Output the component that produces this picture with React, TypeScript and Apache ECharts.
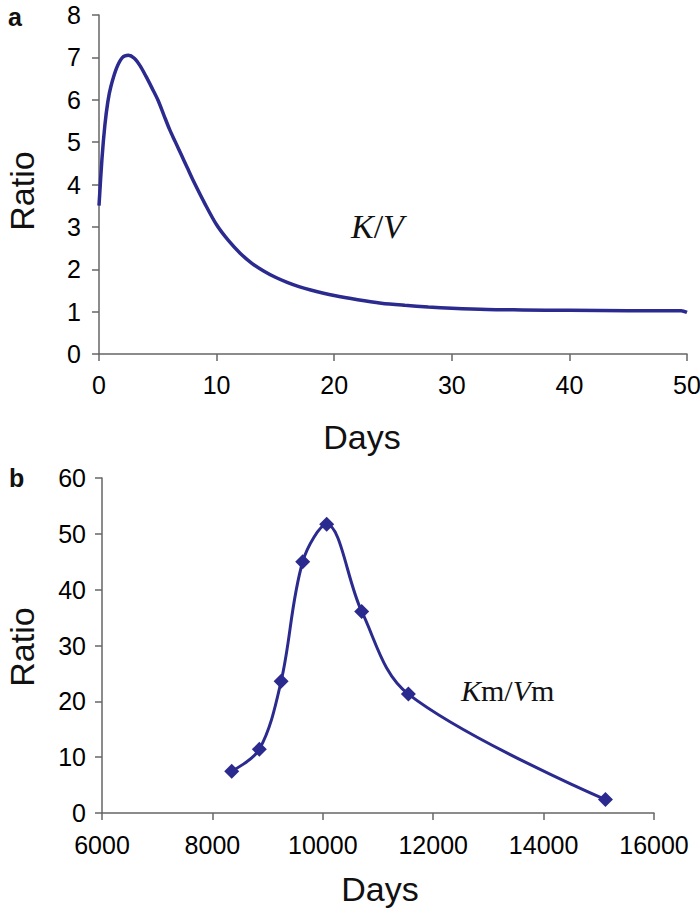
import React, { useEffect, useRef } from "react";
import * as echarts from "echarts";

// Panel a: K/V ratio over the first 50 days
const kvDays = [0, 0.25, 0.5, 0.75, 1, 1.5, 2, 2.5, 3, 3.5, 4, 4.5, 5, 5.5, 6, 6.5, 7, 7.5, 8, 9, 10, 11, 12, 13, 14, 15, 16, 17, 18, 20, 22, 24, 26, 28, 30, 33, 36, 40, 45, 49.5, 50];
const kvRatio = [3.5, 4.6, 5.4, 5.95, 6.3, 6.75, 7.0, 7.05, 6.98, 6.8, 6.55, 6.28, 6.0, 5.65, 5.3, 5.0, 4.7, 4.4, 4.1, 3.55, 3.05, 2.68, 2.38, 2.14, 1.96, 1.81, 1.69, 1.59, 1.51, 1.38, 1.28, 1.2, 1.15, 1.11, 1.08, 1.05, 1.04, 1.03, 1.02, 1.02, 0.98];

// Panel b: Km/Vm ratio at measured days
const kmDays = [8350, 8850, 9245, 9636, 10070, 10705, 11550, 15120];
const kmRatio = [7.5, 11.4, 23.6, 45.0, 51.7, 36.1, 21.3, 2.4];

const LINE = "#2b2a8e";
const AXIS = "#666666";
const SANS = "Liberation Sans, Arial, sans-serif";
const SERIF = "Liberation Serif, Times New Roman, serif";
const TICK_FONT = 25;
const TITLE_FONT = 34;

const plain = (v: number) => String(v);

function axisLabel(margin: number) {
  return { show: true, color: "#000", fontSize: TICK_FONT, fontFamily: SANS, margin, formatter: plain };
}

const axisLine = { show: true, onZero: false, lineStyle: { color: AXIS, width: 1.5 } };
const axisTick = { show: true, inside: false, length: 7, lineStyle: { color: AXIS, width: 1.5 } };

export default function App() {
  const ref = useRef<HTMLDivElement>(null);

  useEffect(() => {
    if (!ref.current) return;
    const chart = echarts.init(ref.current, null, { renderer: "svg" });
    chart.setOption({
      animation: false,
      backgroundColor: "#ffffff",
      grid: [
        { left: 99, top: 15, width: 588, height: 339, containLabel: false, outerBoundsMode: "none" },
        { left: 102, top: 478, width: 552, height: 335, containLabel: false, outerBoundsMode: "none" },
      ],
      xAxis: [
        { type: "value", gridIndex: 0, min: 0, max: 50, interval: 10, axisLine, axisTick, splitLine: { show: false }, axisLabel: axisLabel(18) },
        { type: "value", gridIndex: 1, min: 6000, max: 16000, interval: 2000, axisLine, axisTick, splitLine: { show: false }, axisLabel: axisLabel(19) },
      ],
      yAxis: [
        { type: "value", gridIndex: 0, min: 0, max: 8, interval: 1, axisLine, axisTick, splitLine: { show: false }, axisLabel: axisLabel(18) },
        { type: "value", gridIndex: 1, min: 0, max: 60, interval: 10, axisLine, axisTick, splitLine: { show: false }, axisLabel: axisLabel(16) },
      ],
      series: [
        {
          type: "line",
          xAxisIndex: 0,
          yAxisIndex: 0,
          data: kvDays.map((d, i) => [d, kvRatio[i]]),
          smooth: 0.3,
          showSymbol: false,
          lineStyle: { color: LINE, width: 3.5 },
        },
        {
          type: "line",
          xAxisIndex: 1,
          yAxisIndex: 1,
          data: kmDays.map((d, i) => [d, kmRatio[i]]),
          smooth: 0.35,
          symbol: "diamond",
          symbolSize: 15,
          itemStyle: { color: LINE },
          lineStyle: { color: LINE, width: 3 },
        },
      ],
      graphic: [
        { type: "text", left: 8, top: 4, style: { text: "a", font: `bold 25px ${SANS}`, fill: "#111" } },
        { type: "text", left: 9, top: 465, style: { text: "b", font: `bold 25px ${SANS}`, fill: "#111" } },
        { type: "text", x: 362, y: 437, style: { text: "Days", font: `${TITLE_FONT}px ${SANS}`, fill: "#111", align: "center", verticalAlign: "middle" } },
        { type: "text", x: 380, y: 889, style: { text: "Days", font: `${TITLE_FONT}px ${SANS}`, fill: "#111", align: "center", verticalAlign: "middle" } },
        { type: "text", x: 22, y: 191, rotation: Math.PI / 2, style: { text: "Ratio", font: `${TITLE_FONT}px ${SANS}`, fill: "#111", align: "center", verticalAlign: "middle" } },
        { type: "text", x: 22, y: 647, rotation: Math.PI / 2, style: { text: "Ratio", font: `${TITLE_FONT}px ${SANS}`, fill: "#111", align: "center", verticalAlign: "middle" } },
        {
          type: "text",
          x: 351,
          y: 226,
          style: {
            text: "{i|K}{r|/}{i|V}",
            verticalAlign: "middle",
            rich: {
              i: { font: `italic 34px ${SERIF}`, fill: "#111" },
              r: { font: `34px ${SERIF}`, fill: "#111" },
            },
          },
        },
        {
          type: "text",
          x: 461,
          y: 690,
          style: {
            text: "{i|K}{r|m/}{i|V}{r|m}",
            verticalAlign: "middle",
            rich: {
              i: { font: `italic 30px ${SERIF}`, fill: "#111" },
              r: { font: `30px ${SERIF}`, fill: "#111" },
            },
          },
        },
      ],
    });
    return () => chart.dispose();
  }, []);

  return <div ref={ref} style={{ position: "fixed", left: 0, top: 0, width: 700, height: 914 }} />;
}
